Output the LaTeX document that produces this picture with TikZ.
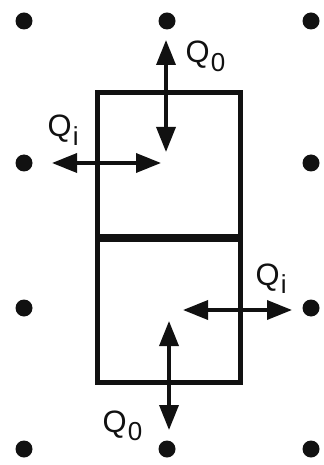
\documentclass[tikz,border=0pt]{standalone}
\usepackage{fontspec}
\setmainfont{Liberation Sans}
\usetikzlibrary{arrows.meta,positioning,calc}
\definecolor{ink}{HTML}{111111}
\newcommand{\flux}[1]{Q\kern0.3pt\raisebox{-0.55ex}{\fontsize{7.4}{8}\selectfont #1}}
\tikzset{
    every picture/.style={line cap=butt,line join=miter},
    gridpt/.style={circle,fill=ink,draw=none,minimum size=1.7mm,inner sep=0pt},
    cellwall/.style={draw=ink,line width=0.5mm},
    cellsplit/.style={draw=ink,line width=0.75mm},
    fluxarrow/.style={{Triangle[length=2.5mm,width=1.9mm]}-{Triangle[length=2.5mm,width=1.9mm]},
      draw=ink,line width=0.35mm},
    fluxlabel/.style={text=ink,inner sep=0pt,font=\fontsize{8.8}{10}\selectfont}
}
\begin{document}
\begin{tikzpicture}[x=0.1mm,y=-0.1mm]
  \useasboundingbox (0,0) rectangle (323,465);
  % grid points (none at the cell centres)
  \foreach \px in {24,311}{
    \foreach \py in {21,163,308,449}{
      \node[gridpt] (p\px-\py) at (\px,\py) {};
    }
  }
  \node[gridpt] (pTop) at (167,21) {};
  \node[gridpt] (pBot) at (167,449) {};
  % the two cells
  \draw[cellwall] (97,93) rectangle (240,382);
  \draw[cellsplit] (97,238) -- (240,238);
  % free ends of the arrows
  \coordinate (topN) at (166,40);
  \coordinate (topS) at (166,152);
  \coordinate (topW) at (52,163);
  \coordinate (topE) at (161,163);
  \coordinate (botW) at (183,310);
  \coordinate (botE) at (292,310);
  \coordinate (botN) at (169,321);
  \coordinate (botS) at (169,430);
  \draw[fluxarrow] (topN) -- (topS);
  \draw[fluxarrow] (topW) -- (topE);
  \draw[fluxarrow] (botW) -- (botE);
  \draw[fluxarrow] (botN) -- (botS);
  % labels
  \node[fluxlabel,anchor=base west] (qoTop) at (185,63) {\flux{0}};
  \node[fluxlabel,anchor=base west] (qiTop) at (47,137) {\flux{i}};
  \node[fluxlabel,anchor=base west] (qiBot) at (255,285) {\flux{i}};
  \node[fluxlabel,anchor=base west] (qoBot) at (102,432) {\flux{0}};
\end{tikzpicture}
\end{document}
